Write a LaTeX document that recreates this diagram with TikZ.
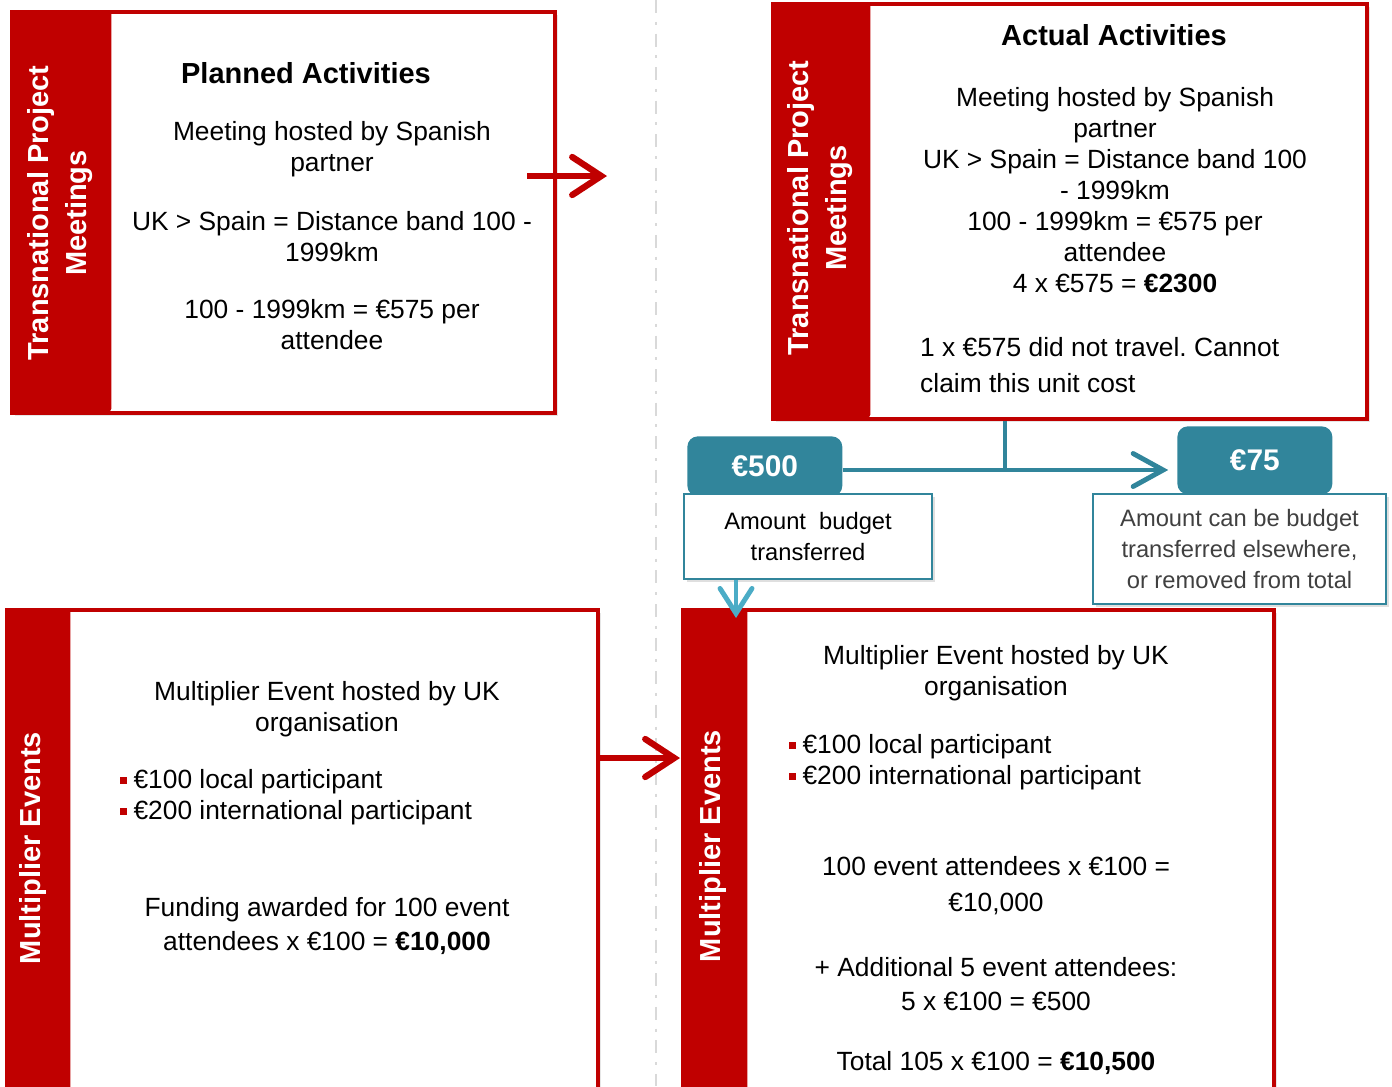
\documentclass[tikz,border=0pt]{standalone}
\usepackage{fontspec}
\setmainfont{Liberation Sans}
\usetikzlibrary{arrows.meta,shadows}
\definecolor{darkred}{RGB}{192,0,0}
\definecolor{budgetteal}{RGB}{49,133,155}
\definecolor{lightteal}{RGB}{75,172,198}
\definecolor{guidegray}{RGB}{217,217,217}
\definecolor{notegray}{RGB}{64,64,64}
\newcommand{\redbullet}{\textcolor{darkred}{\rule[0.18em]{3.8pt}{3.8pt}}\hspace{3.8pt}}
\frenchspacing

\begin{document}
\begin{tikzpicture}[x=0.02cm,y=-0.02cm]
  \tikzset{panel/.style={draw=darkred,line width=2.2pt,fill=white,anchor=north west,inner sep=0pt,drop shadow={opacity=0.2,shadow xshift=2pt,shadow yshift=-2pt}}}
  \tikzset{strip/.style={fill=darkred,anchor=north west,inner sep=0pt,rounded corners=1.5pt}}
  \tikzset{side/.style={text=white,font=\fontsize{16.5}{22}\selectfont\bfseries,rotate=90,align=center}}
  \tikzset{title/.style={font=\fontsize{16.5}{19}\selectfont\bfseries}}
  \tikzset{body/.style={font=\fontsize{15}{17.6}\selectfont,align=center}}
  \tikzset{cost/.style={fill=budgetteal,text=white,anchor=north west,inner sep=0pt,rounded corners=6pt,minimum width=3.1cm,font=\fontsize{17}{20}\selectfont\bfseries}}
  \tikzset{note/.style={draw=budgetteal,line width=1.2pt,fill=white,anchor=north west,inner sep=0pt,align=center,font=\fontsize{13.5}{17.6}\selectfont,drop shadow={opacity=0.25,shadow xshift=1.5pt,shadow yshift=-1.5pt}}}
  \tikzset{redarrow/.style={darkred,line width=3.6pt,-{Straight Barb[length=0.58cm,width=0.76cm,line cap=round]}}}
  \tikzset{tealline/.style={budgetteal,line width=2.8pt}}
  \useasboundingbox (0,0) rectangle (1392,1086);

  \draw[guidegray,line width=1.6pt,dash pattern=on 7.4pt off 5pt on 1.7pt off 5pt] (656,0) -- (656,1086);

  % planned meetings
  \node[panel,minimum width=10.86cm,minimum height=8.02cm] (plan) at (10,10) {};
  \node[strip,minimum width=2.02cm,minimum height=8.02cm] (planside) at (10,10) {};
  \node[side] at (60,213) {Transnational Project\\Meetings};
  \node[title] (plantitle) at (306,73) {Planned Activities};
  \node[body] (planmeet) at (332,149) {Meeting hosted by Spanish\\partner};
  \node[body] (planband) at (332,237) {UK > Spain = Distance band 100 -\\1999km};
  \node[body] (planrate) at (332,325) {100 - 1999km = €575 per\\attendee};

  % actual meetings
  \node[panel,minimum width=11.88cm,minimum height=8.3cm] (actual) at (771,2) {};
  \node[strip,minimum width=1.98cm,minimum height=8.3cm] (actualside) at (771,2) {};
  \node[side] at (820,208) {Transnational Project\\Meetings};
  \node[title] (actualtitle) at (1114,35) {Actual Activities};
  \node[body] (actualmeet) at (1115,190) {Meeting hosted by Spanish\\partner\\UK > Spain = Distance band 100\\- 1999km\\100 - 1999km = €575 per\\attendee\\4 x €575 = \textbf{€2300}};
  \node[body,align=left,anchor=west,font=\fontsize{15}{20}\selectfont] (actualmiss) at (914,365) {1 x €575 did not travel. Cannot\\claim this unit cost};

  % planned multiplier
  \node[panel,minimum width=11.82cm,minimum height=10cm] (mult) at (5,608) {};
  \node[strip,minimum width=1.3cm,minimum height=10cm] (multside) at (5,608) {};
  \node[side] at (33,848) {Multiplier Events};
  \node[body] (multhost) at (327,709) {Multiplier Event hosted by UK\\organisation};
  \node[body,align=left,anchor=west] (multrates) at (114,797) {\redbullet€100 local participant\\\redbullet€200 international participant};
  \node[body,font=\fontsize{15}{19.8}\selectfont] (multfund) at (327,926) {Funding awarded for 100 event\\attendees x €100 = \textbf{€10,000}};

  % actual multiplier
  \node[panel,minimum width=11.82cm,minimum height=10cm] (multact) at (681,608) {};
  \node[strip,minimum width=1.32cm,minimum height=10cm] (multactside) at (681,608) {};
  \node[side] at (713,846) {Multiplier Events};
  \node[body] (multacthost) at (996,673) {Multiplier Event hosted by UK\\organisation};
  \node[body,align=left,anchor=west] (multactrates) at (783,762) {\redbullet€100 local participant\\\redbullet€200 international participant};
  \node[body,font=\fontsize{15}{20.4}\selectfont] (multactcount) at (996,886) {100 event attendees x €100 =\\€10,000};
  \node[body,font=\fontsize{15}{19.8}\selectfont] (multactextra) at (996,984) {+ Additional 5 event attendees:\\5 x €100 = €500};
  \node[body] (multacttotal) at (996,1063) {Total 105 x €100 = \textbf{€10,500}};

  % budget moves
  \node[cost,minimum height=1.2cm] (cost500) at (687,436) {€500};
  \node[note,minimum width=4.96cm,minimum height=1.7cm] (note500) at (683,493) {Amount~ budget\\transferred};
  \node[cost,minimum height=1.36cm] (cost75) at (1177,426) {€75};
  \node[note,text=notegray,minimum width=5.86cm,minimum height=2.2cm] (note75) at (1092,493) {Amount can be budget\\transferred elsewhere,\\or removed from total};

  \coordinate (planout) at (527,176);
  \coordinate (planin) at (607,176);
  \coordinate (multout) at (596,758);
  \coordinate (multin) at (680,758);
  \coordinate (split) at (1005,470);
  \coordinate (drop) at (736,618);
  \draw[redarrow] (planout) -- (planin);
  \draw[redarrow] (multout) -- (multin);
  \draw[tealline] (split |- actual.south) -- (split);
  \draw[tealline,-{Straight Barb[length=0.6cm,width=0.66cm,line cap=round]}] (cost500.east |- split) -- ([xshift=-5pt]cost75.west |- split);
  \draw[lightteal,line width=2.8pt,-{Straight Barb[length=0.5cm,width=0.64cm,line cap=round]}] (drop |- note500.south) -- (drop);
\end{tikzpicture}
\end{document}
